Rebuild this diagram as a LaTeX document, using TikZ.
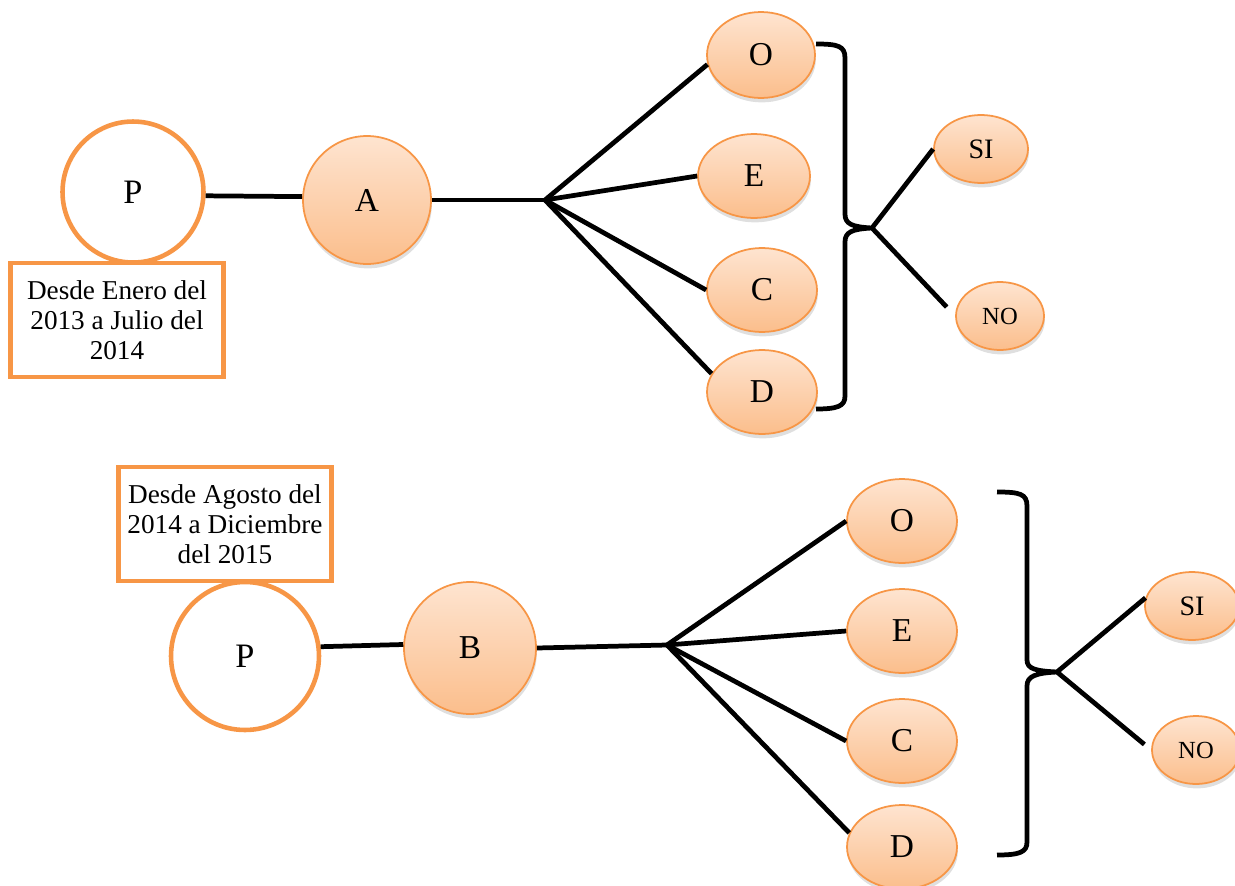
\documentclass[tikz,border=0pt]{standalone}
\usepackage{fontspec}
\setmainfont{Liberation Serif}
\usetikzlibrary{shapes.geometric, shadows}
\definecolor{ocre}{HTML}{F79646}
\definecolor{peachtop}{HTML}{FEE4D0}
\definecolor{peachbot}{HTML}{FBBE8C}
\tikzstyle{ring} = [circle, draw=ocre, line width=2.6pt, fill=white, font=\fontsize{19.5}{22}\selectfont]
\tikzstyle{bubble} = [ellipse, draw=ocre, line width=1pt, top color=peachtop, bottom color=peachbot, drop shadow={shadow xshift=0.5pt, shadow yshift=-2.5pt, opacity=0.25}, font=\fontsize{19}{22}\selectfont]
\tikzstyle{datebox} = [rectangle, draw=ocre, line width=2.6pt, fill=white, align=center, minimum width=4.26cm, minimum height=2.28cm, font=\fontsize{15.5}{17}\selectfont]
\tikzstyle{link} = [line width=2.7pt]
\tikzstyle{brace} = [line width=2.7pt, line join=round]

\begin{document}
\begin{tikzpicture}[x=0.02cm, y=-0.02cm]
      \useasboundingbox (0,0) rectangle (1235,886);

      % first period
      \node (pA) [ring, minimum size=2.82cm] at (133,192) {P};
      \node (dateA) [datebox] at (117,320) {Desde Enero del\\2013 a Julio del\\2014};
      \node (aA) [bubble, circle, minimum size=2.56cm] at (367,200) {A};
      \node (oA) [bubble, minimum width=2.16cm, minimum height=1.72cm] at (761,55) {O};
      \node (eA) [bubble, minimum width=2.24cm, minimum height=1.68cm] at (754,176) {E};
      \node (cA) [bubble, minimum width=2.2cm, minimum height=1.68cm] at (762,290) {C};
      \node (dA) [bubble, minimum width=2.2cm, minimum height=1.68cm] at (762,392) {D};
      \node (siA) [bubble, minimum width=1.88cm, minimum height=1.36cm, font=\fontsize{16}{18}\selectfont] at (981,149) {SI};
      \node (noA) [bubble, minimum width=1.76cm, minimum height=1.36cm, font=\fontsize{14}{16}\selectfont] at (1000,316) {NO};
      \coordinate (hubA) at (545,200);
      \coordinate (tipA) at (872,228);

      \draw [link] (pA.-3) -- (aA.177);
      \draw [link] (aA.east) -- (hubA);
      \draw [link] (hubA) -- (oA.190);
      \draw [link] (hubA) -- (eA.west);
      \draw [link] (hubA) -- (cA.west);
      \draw [link] (hubA) -- (dA.160);
      \draw [brace] (816,44) .. controls (838,44) and (845,46) .. (845,58) -- (845,214) .. controls (845,224) and (852,227) .. (tipA)
            .. controls (852,229) and (845,232) .. (845,242) -- (845,396) .. controls (845,406) and (838,409) .. (816,409);
      \draw [link] (tipA) -- (siA.west);
      \draw [link, shorten >=7pt] (tipA) -- (noA.west);

      % second period
      \node (pB) [ring, minimum size=2.96cm] at (245,656) {P};
      \node (dateB) [datebox] at (225,524) {Desde Agosto del\\2014 a Diciembre\\del 2015};
      \node (bB) [bubble, circle, minimum size=2.64cm] at (470,648) {B};
      \node (oB) [bubble, minimum width=2.2cm, minimum height=1.68cm] at (902,521) {O};
      \node (eB) [bubble, minimum width=2.2cm, minimum height=1.68cm] at (902,631) {E};
      \node (cB) [bubble, minimum width=2.2cm, minimum height=1.68cm] at (902,741) {C};
      \node (dB) [bubble, minimum width=2.2cm, minimum height=1.68cm] at (902,847) {D};
      \node (siB) [bubble, minimum width=1.88cm, minimum height=1.36cm, font=\fontsize{16}{18}\selectfont] at (1192,606) {SI};
      \node (noB) [bubble, minimum width=1.76cm, minimum height=1.36cm, font=\fontsize{14}{16}\selectfont] at (1196,750) {NO};
      \coordinate (hubB) at (667,645);
      \coordinate (tipB) at (1057,672);

      \draw [link] (pB.7) -- (bB.177);
      \draw [link] (bB.east) -- (hubB);
      \draw [link] (hubB) -- (oB.west);
      \draw [link] (hubB) -- (eB.west);
      \draw [link] (hubB) -- (cB.west);
      \draw [link] (hubB) -- (dB.165);
      \draw [brace] (997,492) .. controls (1020,492) and (1027,494) .. (1027,506) -- (1027,660) .. controls (1027,669) and (1036,671) .. (tipB)
            .. controls (1036,673) and (1027,676) .. (1027,686) -- (1027,842) .. controls (1027,852) and (1020,855) .. (997,855);
      \draw [link] (tipB) -- (siB.170);
      \draw [link, shorten >=5pt] (tipB) -- (noB.west);
\end{tikzpicture}
\end{document}
